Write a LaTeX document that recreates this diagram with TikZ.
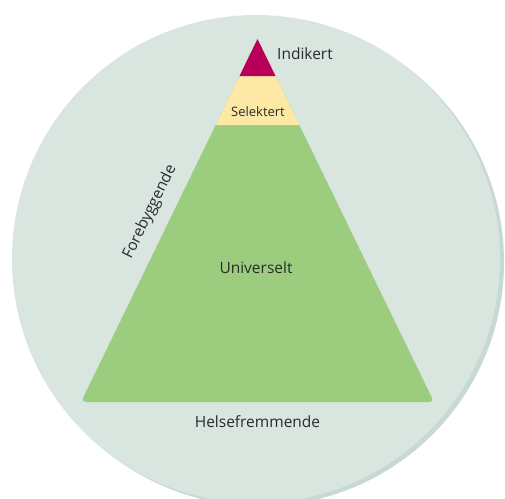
\documentclass[tikz,border=0pt]{standalone}
\usepackage{fontspec}
\setmainfont{Open Sans}
\definecolor{circfill}{HTML}{D9E5DF}
\definecolor{circshadow}{HTML}{C8D9D2}
\definecolor{unigreen}{HTML}{9CCD7F}
\definecolor{selyellow}{HTML}{FDE9A5}
\definecolor{indred}{HTML}{B8005A}
\definecolor{txt}{HTML}{2B2B2B}
\begin{document}
\begin{tikzpicture}[x=1pt,y=-1pt,
  lbl/.style={text=txt,inner sep=0pt,font=\fontsize{15.5}{18}\selectfont},
  smalllbl/.style={text=txt,inner sep=0pt,font=\fontsize{13}{15}\selectfont}]
\useasboundingbox (0,0) rectangle (505,498);
\begin{scope}
\clip (0,0) rectangle (505,498);
\fill[circshadow] (260,262) circle[radius=244];
\fill[circfill] (256,259) circle[radius=244];
\end{scope}
% pyramid
\coordinate (apex) at (257.5,39);
\coordinate (bl) at (81,402);
\coordinate (br) at (434,402);
\fill[unigreen] (apex) [rounded corners=5pt] -- (br) -- (bl) [sharp corners] -- cycle;
\fill[selyellow] (apex) -- (299.3,125) -- (215.7,125) -- cycle;
\fill[indred] (apex) -- (275.5,76) -- (239.5,76) -- cycle;
% labels
\node[lbl,anchor=west] (ind) at (277,54) {Indikert};
\node[smalllbl] (sel) at (258,112) {Selektert};
\node[lbl] (uni) at (256,268) {Universelt};
\node[lbl] (hel) at (257.5,422) {Helsefremmende};
\node[lbl,rotate=64] (fore) at (150,212) {Forebyggende};
\end{tikzpicture}
\end{document}
